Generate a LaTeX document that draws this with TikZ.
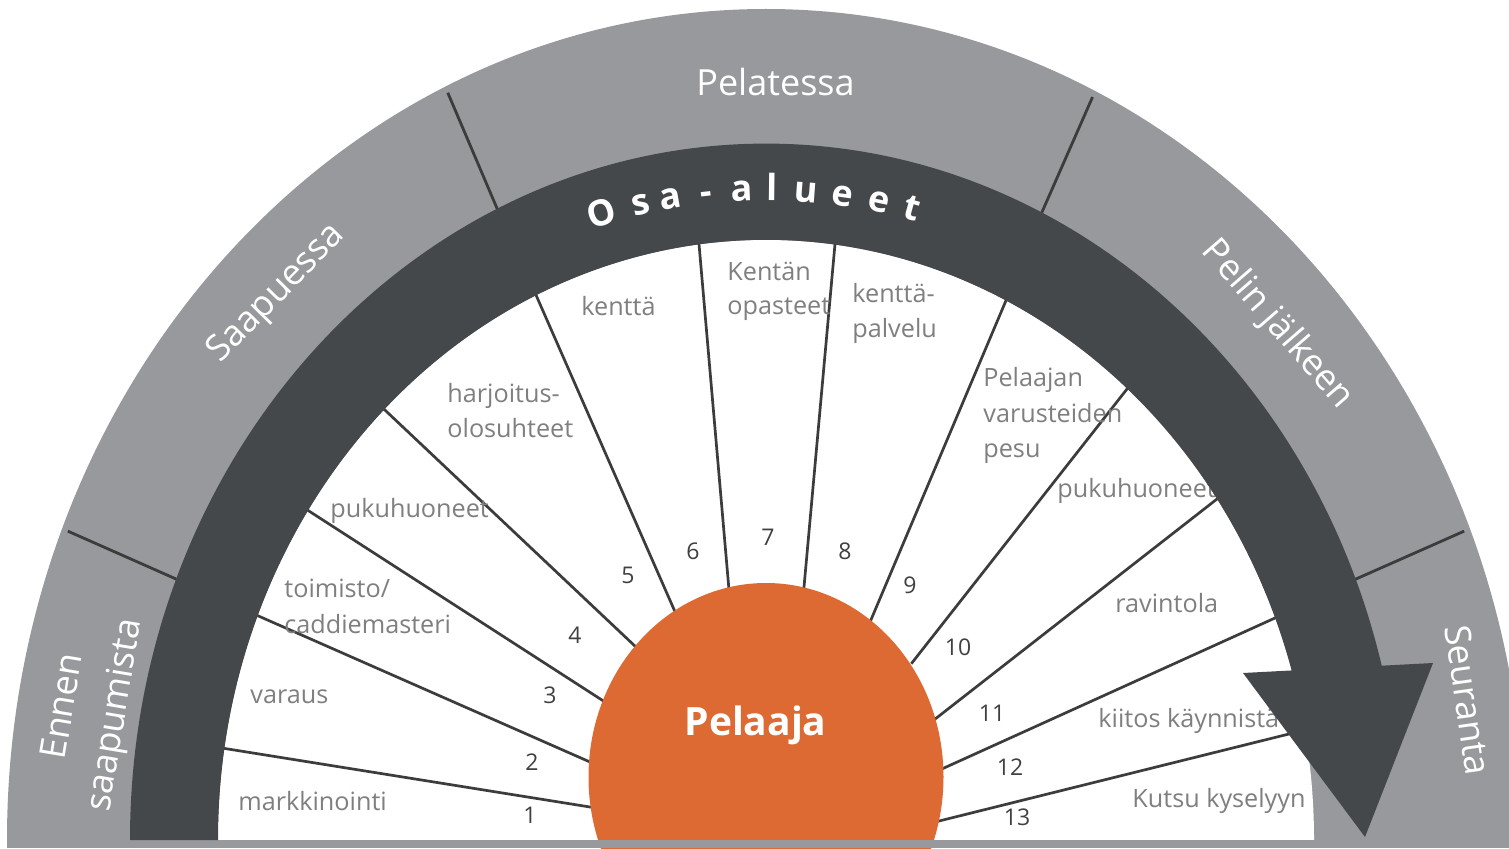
\documentclass[tikz,border=0pt]{standalone}
\usepackage{fontspec}
\setmainfont{Open Sans}
\definecolor{bandgray}{HTML}{98999C}
\definecolor{banddark}{HTML}{45484A}
\definecolor{orng}{HTML}{DD6A32}
\definecolor{lblgray}{HTML}{7F7F7F}
\definecolor{numgray}{HTML}{404040}
\definecolor{linegray}{HTML}{3C3C3C}
\begin{document}
\begin{tikzpicture}[x=0.5pt,y=0.5pt,
  phase/.style={text=white, font=\fontsize{18}{26}\selectfont, inner sep=0pt},
  lbl/.style={text=lblgray, font=\fontsize{12.6}{15}\selectfont, anchor=base west, inner sep=0pt},
  num/.style={text=numgray, font=\fontsize{11.5}{14}\selectfont, inner sep=0pt},
  spoke/.style={draw=linegray, line width=1.35pt, shorten <=-3pt, shorten >=-3pt},
  sep/.style={draw=linegray, line width=1.4pt},
  letter/.style={text=white, font=\fontsize{18}{20}\bfseries\selectfont, anchor=base, inner sep=0pt}
]
\useasboundingbox (0,0) rectangle (1509,848);
\clip (0,0) rectangle (1509,848);
% outer gray half ring
\fill[bandgray] (7,8) arc[start angle=180,end angle=0,x radius=759,y radius=831] -- cycle;
% white inner half disk
\fill[white] (218,8) arc[start angle=180,end angle=0,x radius=548,y radius=600] -- cycle;
% separators in the gray band
\foreach \t in {158,115,64.3,22}
  \draw[sep] ({766+630*cos(\t)},{8+1.095*630*sin(\t)}) -- ({766+753*cos(\t)},{8+1.095*753*sin(\t)});
% spokes
\coordinate (s1o) at (228,99);   \coordinate (s1i) at (590,41);
\coordinate (s2o) at (263,230);  \coordinate (s2i) at (590,86);
\coordinate (s3o) at (312,335);  \coordinate (s3i) at (605,146);
\coordinate (s4o) at (387,436);  \coordinate (s4i) at (637,200);
\coordinate (s5o) at (536,553);  \coordinate (s5i) at (676,234);
\coordinate (s6o) at (699,604);  \coordinate (s6i) at (729,258);
\coordinate (s7o) at (835,604);  \coordinate (s7i) at (804,261);
\coordinate (s8o) at (1006,547.5); \coordinate (s8i) at (873,233);
\coordinate (s9o) at (1127,459); \coordinate (s9i) at (915,189);
\coordinate (s10o) at (1217,349); \coordinate (s10i) at (939,132);
\coordinate (s11o) at (1275,230); \coordinate (s11i) at (944,80);
\coordinate (s12o) at (1305,118); \coordinate (s12i) at (935,26);
\foreach \i in {1,...,12} \draw[spoke] (s\i i) -- (s\i o);
% centre
\fill[orng] (766,71) ellipse [x radius=177.5, y radius=194];
\fill[bandgray] (7,0) rectangle (1509,8);
% labels
\node[lbl] (l1) at (238,38) {markkinointi};
\node[lbl] (l2) at (250,145) {varaus};
\node[lbl] (l3a) at (284,251) {toimisto/};
\node[lbl] (l3b) at (284,215) {caddiemasteri};
\node[lbl] (l4) at (330,331) {pukuhuoneet};
\node[lbl] (l5a) at (447,446) {harjoitus-};
\node[lbl] (l5b) at (447,411) {olosuhteet};
\node[lbl] (l6) at (581,533) {kenttä};
\node[lbl] (l7a) at (727,568) {Kentän};
\node[lbl] (l7b) at (727,534) {opasteet};
\node[lbl] (l8a) at (852,546) {kenttä-};
\node[lbl] (l8b) at (852,511) {palvelu};
\node[lbl] (l9a) at (983,462) {Pelaajan};
\node[lbl] (l9b) at (983,426) {varusteiden};
\node[lbl] (l9c) at (983,391) {pesu};
\node[lbl] (l10) at (1057,351) {pukuhuoneet};
\node[lbl] (l11) at (1115,236) {ravintola};
\node[lbl] (l12) at (1098,121) {kiitos käynnistä};
\node[lbl] (l13) at (1132,41) {Kutsu kyselyyn};
% numbers
\node[num] (n1) at (530,33) {1};
\node[num] (n2) at (532,86) {2};
\node[num] (n3) at (550,153) {3};
\node[num] (n4) at (575,213) {4};
\node[num] (n5) at (628,273) {5};
\node[num] (n6) at (693,297) {6};
\node[num] (n7) at (768,311) {7};
\node[num] (n8) at (845,297) {8};
\node[num] (n9) at (910,263) {9};
\node[num] (n10) at (958,201) {10};
\node[num] (n11) at (992,135) {11};
\node[num] (n12) at (1010,81) {12};
\node[num] (n13) at (1017,31) {13};
% dark band with arrow
\fill[banddark] (130,8) arc[start angle=180,end angle=14.3,x radius=636,y radius=696.4]
  -- ({766+548*cos(16.2)},{8+600.06*sin(16.2)})
  arc[start angle=16.2,end angle=180,x radius=548,y radius=600.06] -- cycle;
\coordinate (ahL) at (1243,175);
\coordinate (ahR) at (1433,185);
\coordinate (ahT) at (1365,11);
\fill[banddark] (ahL) -- (ahR) -- (ahT) -- cycle;
% Osa-alueet letters along the band
\foreach \ch/\t [count=\i] in {O/105.96, s/102.1, a/99.2, -/95.8, a/92.3, l/89.4, u/86.1, e/82.6, e/79.1, t/75.8} {
  \pgfmathsetmacro\rot{atan2(-1.095*cos(\t), sin(\t))}
  \node[letter, rotate=\rot] (osa\i) at ({766+584*cos(\t)},{8+1.095*584*sin(\t)}) {\ch};
}
% phase labels
\node[phase, rotate=80.5, align=center] (p1) at (91,137) {Ennen\\saapumista};
\node[phase, rotate=45.5] (p2) at (277,554) {Saapuessa};
\node[phase, anchor=base] (p3) at (775.5,752) {Pelatessa};
\node[phase, rotate=-49] (p4) at (1277,523) {Pelin jälkeen};
\node[phase, rotate=-82] (p5) at (1468,148) {Seuranta};
% centre label
\node[text=white, font=\fontsize{19.5}{22}\bfseries\selectfont, anchor=base, inner sep=0pt] (pel) at (755.5,113) {Pelaaja};
\end{tikzpicture}
\end{document}
